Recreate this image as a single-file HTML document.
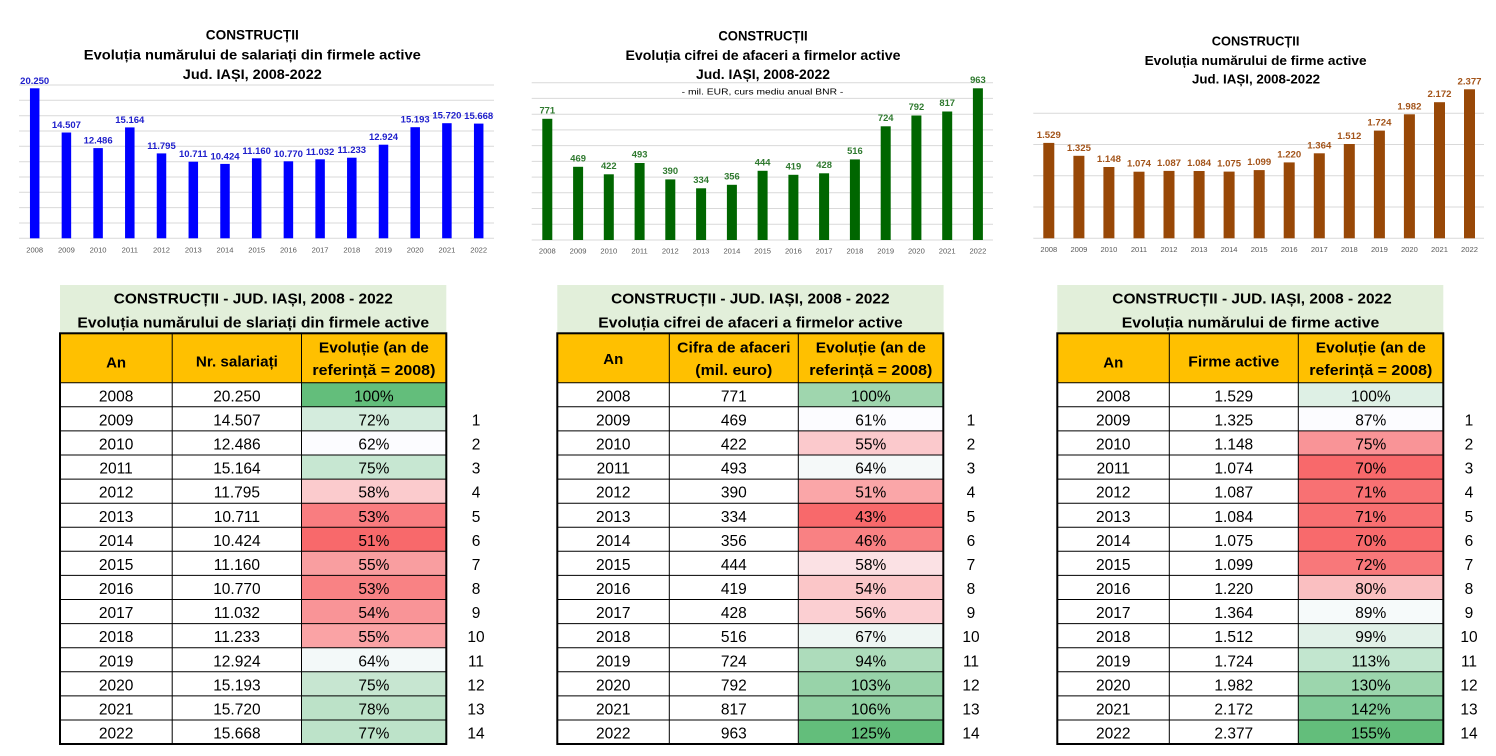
<!DOCTYPE html>
<html><head><meta charset="utf-8"><style>
html,body{margin:0;padding:0;background:#fff;}
svg{display:block;}
text{font-family:"Liberation Sans",sans-serif;}
.ct{font-weight:bold;font-size:13.5px;fill:#000;text-anchor:middle;}
.ct3{font-weight:bold;font-size:12.8px;fill:#000;text-anchor:middle;}
.yr{font-size:7.6px;fill:#595959;text-anchor:middle;}
.l1{font-weight:bold;font-size:9.5px;fill:#2020cc;text-anchor:middle;}
.l2{font-weight:bold;font-size:9.4px;fill:#2f7a2f;text-anchor:middle;}
.l3{font-weight:bold;font-size:9.6px;fill:#a3541a;text-anchor:middle;}
.tt{font-weight:bold;font-size:15px;fill:#000;text-anchor:middle;}
.h{font-weight:bold;font-size:15px;fill:#000;text-anchor:middle;}
.b{font-size:15.5px;fill:#000;text-anchor:middle;}
.g{stroke:#d9d9d9;stroke-width:1;fill:none;}
</style></head><body>
<svg width="1496" height="756" viewBox="0 0 1496 756" xmlns="http://www.w3.org/2000/svg">
<rect width="1496" height="756" fill="#fff"/>

<!-- ============ CHART 1 ============ -->
<path class="g" d="M19 85H494M19 100.3H494M19 115.7H494M19 131H494M19 146.3H494M19 161.7H494M19 177H494M19 192.3H494M19 207.6H494M19 223H494M19 238.3H494"/>
<text class="ct" x="252.3" y="39.7" textLength="93" lengthAdjust="spacingAndGlyphs">CONSTRUCȚII</text>
<text class="ct" x="252.3" y="59.6" textLength="337" lengthAdjust="spacingAndGlyphs">Evoluția numărului de salariați din firmele active</text>
<text class="ct" x="252.3" y="78.8" textLength="139" lengthAdjust="spacingAndGlyphs">Jud. IAȘI, 2008-2022</text>
<g fill="#0000ff">
<rect x="29.95" y="88.3" width="9.5" height="150"/>
<rect x="61.65" y="132.5" width="9.5" height="105.8"/>
<rect x="93.35" y="148.1" width="9.5" height="90.2"/>
<rect x="125.05" y="127.4" width="9.5" height="110.9"/>
<rect x="156.75" y="153.4" width="9.5" height="84.9"/>
<rect x="188.55" y="161.7" width="9.5" height="76.6"/>
<rect x="220.25" y="163.9" width="9.5" height="74.4"/>
<rect x="251.95" y="158.3" width="9.5" height="80"/>
<rect x="283.65" y="161.3" width="9.5" height="77"/>
<rect x="315.35" y="159.3" width="9.5" height="79"/>
<rect x="347.05" y="157.7" width="9.5" height="80.6"/>
<rect x="378.75" y="144.7" width="9.5" height="93.6"/>
<rect x="410.45" y="127.2" width="9.5" height="111.1"/>
<rect x="442.15" y="123.2" width="9.5" height="115.1"/>
<rect x="473.95" y="123.6" width="9.5" height="114.7"/>
</g>
<text class="l1" x="34.7" y="83.8">20.250</text>
<text class="l1" x="66.4" y="128">14.507</text>
<text class="l1" x="98.1" y="143.6">12.486</text>
<text class="l1" x="129.8" y="122.9">15.164</text>
<text class="l1" x="161.5" y="148.9">11.795</text>
<text class="l1" x="193.3" y="157.2">10.711</text>
<text class="l1" x="225" y="159.4">10.424</text>
<text class="l1" x="256.7" y="153.8">11.160</text>
<text class="l1" x="288.4" y="156.8">10.770</text>
<text class="l1" x="320.1" y="154.8">11.032</text>
<text class="l1" x="351.8" y="153.2">11.233</text>
<text class="l1" x="383.5" y="140.2">12.924</text>
<text class="l1" x="415.2" y="122.7">15.193</text>
<text class="l1" x="446.9" y="118.7">15.720</text>
<text class="l1" x="478.7" y="119.1">15.668</text>
<text class="yr" x="34.7" y="252.5">2008</text>
<text class="yr" x="66.4" y="252.5">2009</text>
<text class="yr" x="98.1" y="252.5">2010</text>
<text class="yr" x="129.8" y="252.5">2011</text>
<text class="yr" x="161.5" y="252.5">2012</text>
<text class="yr" x="193.3" y="252.5">2013</text>
<text class="yr" x="225" y="252.5">2014</text>
<text class="yr" x="256.7" y="252.5">2015</text>
<text class="yr" x="288.4" y="252.5">2016</text>
<text class="yr" x="320.1" y="252.5">2017</text>
<text class="yr" x="351.8" y="252.5">2018</text>
<text class="yr" x="383.5" y="252.5">2019</text>
<text class="yr" x="415.2" y="252.5">2020</text>
<text class="yr" x="446.9" y="252.5">2021</text>
<text class="yr" x="478.7" y="252.5">2022</text>

<!-- ============ CHART 2 ============ -->
<path class="g" d="M531.7 82.7H993M531.7 98.4H993M531.7 114.2H993M531.7 129.9H993M531.7 145.6H993M531.7 161.4H993M531.7 177.1H993M531.7 192.8H993M531.7 208.5H993M531.7 224.3H993M531.7 240H993"/>
<text class="ct" x="763" y="40.3" textLength="89.3" lengthAdjust="spacingAndGlyphs">CONSTRUCȚII</text>
<text class="ct" x="763" y="60" textLength="275" lengthAdjust="spacingAndGlyphs">Evoluția cifrei de afaceri a firmelor active</text>
<text class="ct" x="763" y="78.8" textLength="134" lengthAdjust="spacingAndGlyphs">Jud. IAȘI, 2008-2022</text>
<text x="762.5" y="94.5" font-size="8.5" fill="#000" text-anchor="middle" textLength="161.6" lengthAdjust="spacingAndGlyphs">- mil. EUR, curs mediu anual BNR -</text>
<g fill="#006600">
<rect x="542.3" y="118.8" width="10" height="121.2"/>
<rect x="573.1" y="166.8" width="10" height="73.2"/>
<rect x="603.8" y="174.3" width="10" height="65.7"/>
<rect x="634.6" y="163" width="10" height="77"/>
<rect x="665.3" y="179.4" width="10" height="60.6"/>
<rect x="696.1" y="188.3" width="10" height="51.7"/>
<rect x="726.9" y="184.8" width="10" height="55.2"/>
<rect x="757.6" y="170.8" width="10" height="69.2"/>
<rect x="788.4" y="174.8" width="10" height="65.2"/>
<rect x="819.1" y="173.3" width="10" height="66.7"/>
<rect x="849.9" y="159.4" width="10" height="80.6"/>
<rect x="880.7" y="126.3" width="10" height="113.7"/>
<rect x="911.4" y="115.5" width="10" height="124.5"/>
<rect x="942.2" y="111.5" width="10" height="128.5"/>
<rect x="972.9" y="88.3" width="10" height="151.7"/>
</g>
<text class="l2" x="547.3" y="113.3">771</text>
<text class="l2" x="578.1" y="161.3">469</text>
<text class="l2" x="608.8" y="168.8">422</text>
<text class="l2" x="639.6" y="157.5">493</text>
<text class="l2" x="670.3" y="173.9">390</text>
<text class="l2" x="701.1" y="182.8">334</text>
<text class="l2" x="731.9" y="179.3">356</text>
<text class="l2" x="762.6" y="165.3">444</text>
<text class="l2" x="793.4" y="169.3">419</text>
<text class="l2" x="824.1" y="167.8">428</text>
<text class="l2" x="854.9" y="153.9">516</text>
<text class="l2" x="885.7" y="120.8">724</text>
<text class="l2" x="916.4" y="110">792</text>
<text class="l2" x="947.2" y="106">817</text>
<text class="l2" x="977.9" y="82.8">963</text>
<text class="yr" x="547.3" y="253.5">2008</text>
<text class="yr" x="578.1" y="253.5">2009</text>
<text class="yr" x="608.8" y="253.5">2010</text>
<text class="yr" x="639.6" y="253.5">2011</text>
<text class="yr" x="670.3" y="253.5">2012</text>
<text class="yr" x="701.1" y="253.5">2013</text>
<text class="yr" x="731.9" y="253.5">2014</text>
<text class="yr" x="762.6" y="253.5">2015</text>
<text class="yr" x="793.4" y="253.5">2016</text>
<text class="yr" x="824.1" y="253.5">2017</text>
<text class="yr" x="854.9" y="253.5">2018</text>
<text class="yr" x="885.7" y="253.5">2019</text>
<text class="yr" x="916.4" y="253.5">2020</text>
<text class="yr" x="947.2" y="253.5">2021</text>
<text class="yr" x="977.9" y="253.5">2022</text>

<!-- ============ CHART 3 ============ -->
<path class="g" d="M1033.3 113.3H1484M1033.3 144.55H1484M1033.3 175.8H1484M1033.3 207.05H1484M1033.3 238.3H1484"/>
<text class="ct3" x="1255.6" y="45.3" textLength="87.6" lengthAdjust="spacingAndGlyphs">CONSTRUCȚII</text>
<text class="ct3" x="1255.6" y="64.9" textLength="222" lengthAdjust="spacingAndGlyphs">Evoluția numărului de firme active</text>
<text class="ct3" x="1256" y="83.3" textLength="128" lengthAdjust="spacingAndGlyphs">Jud. IAȘI, 2008-2022</text>
<g fill="#984807">
<rect x="1043.3" y="142.9" width="11" height="95.4"/>
<rect x="1073.4" y="155.8" width="11" height="82.5"/>
<rect x="1103.4" y="167" width="11" height="71.3"/>
<rect x="1133.5" y="171.7" width="11" height="66.6"/>
<rect x="1163.5" y="170.9" width="11" height="67.4"/>
<rect x="1193.6" y="171" width="11" height="67.3"/>
<rect x="1223.6" y="171.6" width="11" height="66.7"/>
<rect x="1253.7" y="170.1" width="11" height="68.2"/>
<rect x="1283.7" y="162.4" width="11" height="75.9"/>
<rect x="1313.8" y="153.3" width="11" height="85"/>
<rect x="1343.8" y="144" width="11" height="94.3"/>
<rect x="1373.9" y="130.6" width="11" height="107.7"/>
<rect x="1403.9" y="114.3" width="11" height="124"/>
<rect x="1434" y="102.2" width="11" height="136.1"/>
<rect x="1464" y="89.3" width="11" height="149"/>
</g>
<text class="l3" x="1048.8" y="137.9">1.529</text>
<text class="l3" x="1078.9" y="150.8">1.325</text>
<text class="l3" x="1108.9" y="162">1.148</text>
<text class="l3" x="1139" y="166.7">1.074</text>
<text class="l3" x="1169" y="165.9">1.087</text>
<text class="l3" x="1199.1" y="166">1.084</text>
<text class="l3" x="1229.1" y="166.6">1.075</text>
<text class="l3" x="1259.2" y="165.1">1.099</text>
<text class="l3" x="1289.2" y="157.4">1.220</text>
<text class="l3" x="1319.3" y="148.3">1.364</text>
<text class="l3" x="1349.3" y="139">1.512</text>
<text class="l3" x="1379.4" y="125.6">1.724</text>
<text class="l3" x="1409.4" y="109.3">1.982</text>
<text class="l3" x="1439.5" y="97.2">2.172</text>
<text class="l3" x="1469.5" y="84.3">2.377</text>
<text class="yr" x="1048.8" y="252">2008</text>
<text class="yr" x="1078.9" y="252">2009</text>
<text class="yr" x="1108.9" y="252">2010</text>
<text class="yr" x="1139" y="252">2011</text>
<text class="yr" x="1169" y="252">2012</text>
<text class="yr" x="1199.1" y="252">2013</text>
<text class="yr" x="1229.1" y="252">2014</text>
<text class="yr" x="1259.2" y="252">2015</text>
<text class="yr" x="1289.2" y="252">2016</text>
<text class="yr" x="1319.3" y="252">2017</text>
<text class="yr" x="1349.3" y="252">2018</text>
<text class="yr" x="1379.4" y="252">2019</text>
<text class="yr" x="1409.4" y="252">2020</text>
<text class="yr" x="1439.5" y="252">2021</text>
<text class="yr" x="1469.5" y="252">2022</text>

<!-- ============ TABLE 1 ============ -->
<g transform="translate(60,0)">
<rect x="0" y="285" width="386.3" height="48.3" fill="#E2EFDA"/>
<rect x="0" y="333.3" width="386.3" height="49.4" fill="#FFC000"/>
<rect x="241.5" y="382.7" width="144.8" height="24.09" fill="rgb(99,190,123)"/>
<rect x="241.5" y="406.8" width="144.8" height="24.09" fill="rgb(212,236,221)"/>
<rect x="241.5" y="430.9" width="144.8" height="24.09" fill="rgb(252,252,255)"/>
<rect x="241.5" y="455" width="144.8" height="24.09" fill="rgb(199,231,210)"/>
<rect x="241.5" y="479.1" width="144.8" height="24.09" fill="rgb(251,203,205)"/>
<rect x="241.5" y="503.2" width="144.8" height="24.09" fill="rgb(249,125,128)"/>
<rect x="241.5" y="527.2" width="144.8" height="24.09" fill="rgb(248,105,107)"/>
<rect x="241.5" y="551.3" width="144.8" height="24.09" fill="rgb(249,158,160)"/>
<rect x="241.5" y="575.4" width="144.8" height="24.09" fill="rgb(249,130,132)"/>
<rect x="241.5" y="599.5" width="144.8" height="24.09" fill="rgb(249,148,151)"/>
<rect x="241.5" y="623.6" width="144.8" height="24.09" fill="rgb(250,163,165)"/>
<rect x="241.5" y="647.7" width="144.8" height="24.09" fill="rgb(243,249,249)"/>
<rect x="241.5" y="671.8" width="144.8" height="24.09" fill="rgb(199,230,209)"/>
<rect x="241.5" y="695.9" width="144.8" height="24.09" fill="rgb(188,226,200)"/>
<rect x="241.5" y="720" width="144.8" height="24.05" fill="rgb(189,227,201)"/>
<path d="M0 382.7H386.3M0 406.8H386.3M0 430.9H386.3M0 455H386.3M0 479.1H386.3M0 503.2H386.3M0 527.2H386.3M0 551.3H386.3M0 575.4H386.3M0 599.5H386.3M0 623.6H386.3M0 647.7H386.3M0 671.8H386.3M0 695.9H386.3M0 720H386.3M112.2 333.3V744M241.5 333.3V744" stroke="#000" stroke-width="1" fill="none"/>
<rect x="0" y="333.3" width="386.3" height="410.7" fill="none" stroke="#000" stroke-width="2"/>
<text class="tt" x="193.3" y="303.3" textLength="279" lengthAdjust="spacingAndGlyphs">CONSTRUCȚII - JUD. IAȘI, 2008 - 2022</text>
<text class="tt" x="193.3" y="327.3" textLength="351.7" lengthAdjust="spacingAndGlyphs">Evoluția numărului de slariați din firmele active</text>
<text class="h" x="56.1" y="367.3">An</text>
<text class="h" x="176.9" y="366.7" textLength="82" lengthAdjust="spacingAndGlyphs">Nr. salariați</text>
<text class="h" x="313.9" y="352.7" textLength="110" lengthAdjust="spacingAndGlyphs">Evoluție (an de</text>
<text class="h" x="313.9" y="375" textLength="123" lengthAdjust="spacingAndGlyphs">referință = 2008)</text>
<g class="b">
<text x="56.1" y="401.3">2008</text><text x="176.9" y="401.3">20.250</text><text x="313.9" y="401.3">100%</text>
<text x="56.1" y="425.4">2009</text><text x="176.9" y="425.4">14.507</text><text x="313.9" y="425.4">72%</text><text x="416" y="425.4">1</text>
<text x="56.1" y="449.5">2010</text><text x="176.9" y="449.5">12.486</text><text x="313.9" y="449.5">62%</text><text x="416" y="449.5">2</text>
<text x="56.1" y="473.6">2011</text><text x="176.9" y="473.6">15.164</text><text x="313.9" y="473.6">75%</text><text x="416" y="473.6">3</text>
<text x="56.1" y="497.7">2012</text><text x="176.9" y="497.7">11.795</text><text x="313.9" y="497.7">58%</text><text x="416" y="497.7">4</text>
<text x="56.1" y="521.8">2013</text><text x="176.9" y="521.8">10.711</text><text x="313.9" y="521.8">53%</text><text x="416" y="521.8">5</text>
<text x="56.1" y="545.8">2014</text><text x="176.9" y="545.8">10.424</text><text x="313.9" y="545.8">51%</text><text x="416" y="545.8">6</text>
<text x="56.1" y="569.9">2015</text><text x="176.9" y="569.9">11.160</text><text x="313.9" y="569.9">55%</text><text x="416" y="569.9">7</text>
<text x="56.1" y="594">2016</text><text x="176.9" y="594">10.770</text><text x="313.9" y="594">53%</text><text x="416" y="594">8</text>
<text x="56.1" y="618.1">2017</text><text x="176.9" y="618.1">11.032</text><text x="313.9" y="618.1">54%</text><text x="416" y="618.1">9</text>
<text x="56.1" y="642.2">2018</text><text x="176.9" y="642.2">11.233</text><text x="313.9" y="642.2">55%</text><text x="416" y="642.2">10</text>
<text x="56.1" y="666.3">2019</text><text x="176.9" y="666.3">12.924</text><text x="313.9" y="666.3">64%</text><text x="416" y="666.3">11</text>
<text x="56.1" y="690.4">2020</text><text x="176.9" y="690.4">15.193</text><text x="313.9" y="690.4">75%</text><text x="416" y="690.4">12</text>
<text x="56.1" y="714.5">2021</text><text x="176.9" y="714.5">15.720</text><text x="313.9" y="714.5">78%</text><text x="416" y="714.5">13</text>
<text x="56.1" y="738.5">2022</text><text x="176.9" y="738.5">15.668</text><text x="313.9" y="738.5">77%</text><text x="416" y="738.5">14</text>
</g>
</g>

<!-- ============ TABLE 2 ============ -->
<g transform="translate(557.3,0)">
<rect x="0" y="285" width="386.3" height="48.3" fill="#E2EFDA"/>
<rect x="0" y="333.3" width="386.3" height="49.4" fill="#FFC000"/>
<rect x="241.5" y="382.7" width="144.8" height="24.09" fill="rgb(159,214,174)"/>
<rect x="241.5" y="406.8" width="144.8" height="24.09" fill="rgb(252,252,255)"/>
<rect x="241.5" y="430.9" width="144.8" height="24.09" fill="rgb(251,201,204)"/>
<rect x="241.5" y="455" width="144.8" height="24.09" fill="rgb(245,249,249)"/>
<rect x="241.5" y="479.1" width="144.8" height="24.09" fill="rgb(250,166,168)"/>
<rect x="241.5" y="503.2" width="144.8" height="24.09" fill="rgb(248,105,107)"/>
<rect x="241.5" y="527.2" width="144.8" height="24.09" fill="rgb(249,129,131)"/>
<rect x="241.5" y="551.3" width="144.8" height="24.09" fill="rgb(251,225,228)"/>
<rect x="241.5" y="575.4" width="144.8" height="24.09" fill="rgb(251,198,200)"/>
<rect x="241.5" y="599.5" width="144.8" height="24.09" fill="rgb(251,207,210)"/>
<rect x="241.5" y="623.6" width="144.8" height="24.09" fill="rgb(238,246,243)"/>
<rect x="241.5" y="647.7" width="144.8" height="24.09" fill="rgb(173,220,187)"/>
<rect x="241.5" y="671.8" width="144.8" height="24.09" fill="rgb(152,211,169)"/>
<rect x="241.5" y="695.9" width="144.8" height="24.09" fill="rgb(144,208,162)"/>
<rect x="241.5" y="720" width="144.8" height="24.05" fill="rgb(99,190,123)"/>
<path d="M0 382.7H386.3M0 406.8H386.3M0 430.9H386.3M0 455H386.3M0 479.1H386.3M0 503.2H386.3M0 527.2H386.3M0 551.3H386.3M0 575.4H386.3M0 599.5H386.3M0 623.6H386.3M0 647.7H386.3M0 671.8H386.3M0 695.9H386.3M0 720H386.3M112 333.3V744M241 333.3V744" stroke="#000" stroke-width="1" fill="none"/>
<rect x="0" y="333.3" width="386" height="410.7" fill="none" stroke="#000" stroke-width="2"/>
<text class="tt" x="193" y="303.3" textLength="278.4" lengthAdjust="spacingAndGlyphs">CONSTRUCȚII - JUD. IAȘI, 2008 - 2022</text>
<text class="tt" x="193.2" y="327.3" textLength="304.4" lengthAdjust="spacingAndGlyphs">Evoluția cifrei de afaceri a firmelor active</text>
<text class="h" x="56" y="364">An</text>
<text class="h" x="176.5" y="352.7" textLength="113.3" lengthAdjust="spacingAndGlyphs">Cifra de afaceri</text>
<text class="h" x="176.5" y="375" textLength="77" lengthAdjust="spacingAndGlyphs">(mil. euro)</text>
<text class="h" x="313.5" y="352.7" textLength="110" lengthAdjust="spacingAndGlyphs">Evoluție (an de</text>
<text class="h" x="313.5" y="375" textLength="123" lengthAdjust="spacingAndGlyphs">referință = 2008)</text>
<g class="b">
<text x="56" y="401.3">2008</text><text x="176.5" y="401.3">771</text><text x="313.5" y="401.3">100%</text>
<text x="56" y="425.4">2009</text><text x="176.5" y="425.4">469</text><text x="313.5" y="425.4">61%</text><text x="413.7" y="425.4">1</text>
<text x="56" y="449.5">2010</text><text x="176.5" y="449.5">422</text><text x="313.5" y="449.5">55%</text><text x="413.7" y="449.5">2</text>
<text x="56" y="473.6">2011</text><text x="176.5" y="473.6">493</text><text x="313.5" y="473.6">64%</text><text x="413.7" y="473.6">3</text>
<text x="56" y="497.7">2012</text><text x="176.5" y="497.7">390</text><text x="313.5" y="497.7">51%</text><text x="413.7" y="497.7">4</text>
<text x="56" y="521.8">2013</text><text x="176.5" y="521.8">334</text><text x="313.5" y="521.8">43%</text><text x="413.7" y="521.8">5</text>
<text x="56" y="545.8">2014</text><text x="176.5" y="545.8">356</text><text x="313.5" y="545.8">46%</text><text x="413.7" y="545.8">6</text>
<text x="56" y="569.9">2015</text><text x="176.5" y="569.9">444</text><text x="313.5" y="569.9">58%</text><text x="413.7" y="569.9">7</text>
<text x="56" y="594">2016</text><text x="176.5" y="594">419</text><text x="313.5" y="594">54%</text><text x="413.7" y="594">8</text>
<text x="56" y="618.1">2017</text><text x="176.5" y="618.1">428</text><text x="313.5" y="618.1">56%</text><text x="413.7" y="618.1">9</text>
<text x="56" y="642.2">2018</text><text x="176.5" y="642.2">516</text><text x="313.5" y="642.2">67%</text><text x="413.7" y="642.2">10</text>
<text x="56" y="666.3">2019</text><text x="176.5" y="666.3">724</text><text x="313.5" y="666.3">94%</text><text x="413.7" y="666.3">11</text>
<text x="56" y="690.4">2020</text><text x="176.5" y="690.4">792</text><text x="313.5" y="690.4">103%</text><text x="413.7" y="690.4">12</text>
<text x="56" y="714.5">2021</text><text x="176.5" y="714.5">817</text><text x="313.5" y="714.5">106%</text><text x="413.7" y="714.5">13</text>
<text x="56" y="738.5">2022</text><text x="176.5" y="738.5">963</text><text x="313.5" y="738.5">125%</text><text x="413.7" y="738.5">14</text>
</g>
</g>

<!-- ============ TABLE 3 ============ -->
<g transform="translate(1057.3,0)">
<rect x="0" y="285" width="386" height="48.3" fill="#E2EFDA"/>
<rect x="0" y="333.3" width="386" height="49.4" fill="#FFC000"/>
<rect x="241" y="382.7" width="145" height="24.09" fill="rgb(222,240,229)"/>
<rect x="241" y="406.8" width="145" height="24.09" fill="rgb(252,252,255)"/>
<rect x="241" y="430.9" width="145" height="24.09" fill="rgb(249,148,151)"/>
<rect x="241" y="455" width="145" height="24.09" fill="rgb(248,105,107)"/>
<rect x="241" y="479.1" width="145" height="24.09" fill="rgb(248,113,115)"/>
<rect x="241" y="503.2" width="145" height="24.09" fill="rgb(248,111,113)"/>
<rect x="241" y="527.2" width="145" height="24.09" fill="rgb(248,106,108)"/>
<rect x="241" y="551.3" width="145" height="24.09" fill="rgb(248,120,122)"/>
<rect x="241" y="575.4" width="145" height="24.09" fill="rgb(250,191,193)"/>
<rect x="241" y="599.5" width="145" height="24.09" fill="rgb(246,250,250)"/>
<rect x="241" y="623.6" width="145" height="24.09" fill="rgb(225,241,232)"/>
<rect x="241" y="647.7" width="145" height="24.09" fill="rgb(194,230,207)"/>
<rect x="241" y="671.8" width="145" height="24.09" fill="rgb(156,214,173)"/>
<rect x="241" y="695.9" width="145" height="24.09" fill="rgb(129,203,152)"/>
<rect x="241" y="720" width="145" height="24.05" fill="rgb(99,190,123)"/>
<path d="M0 382.7H386M0 406.8H386M0 430.9H386M0 455H386M0 479.1H386M0 503.2H386M0 527.2H386M0 551.3H386M0 575.4H386M0 599.5H386M0 623.6H386M0 647.7H386M0 671.8H386M0 695.9H386M0 720H386M112 333.3V744M241 333.3V744" stroke="#000" stroke-width="1" fill="none"/>
<rect x="0" y="333.3" width="386" height="410.7" fill="none" stroke="#000" stroke-width="2"/>
<text class="tt" x="194.7" y="303.3" textLength="279.4" lengthAdjust="spacingAndGlyphs">CONSTRUCȚII - JUD. IAȘI, 2008 - 2022</text>
<text class="tt" x="193.2" y="327.3" textLength="257.6" lengthAdjust="spacingAndGlyphs">Evoluția numărului de firme active</text>
<text class="h" x="56" y="367.3">An</text>
<text class="h" x="176.5" y="366.7" textLength="91" lengthAdjust="spacingAndGlyphs">Firme active</text>
<text class="h" x="313.5" y="352.7" textLength="110" lengthAdjust="spacingAndGlyphs">Evoluție (an de</text>
<text class="h" x="313.5" y="375" textLength="123" lengthAdjust="spacingAndGlyphs">referință = 2008)</text>
<g class="b">
<text x="56" y="401.3">2008</text><text x="176.5" y="401.3">1.529</text><text x="313.5" y="401.3">100%</text>
<text x="56" y="425.4">2009</text><text x="176.5" y="425.4">1.325</text><text x="313.5" y="425.4">87%</text><text x="411.7" y="425.4">1</text>
<text x="56" y="449.5">2010</text><text x="176.5" y="449.5">1.148</text><text x="313.5" y="449.5">75%</text><text x="411.7" y="449.5">2</text>
<text x="56" y="473.6">2011</text><text x="176.5" y="473.6">1.074</text><text x="313.5" y="473.6">70%</text><text x="411.7" y="473.6">3</text>
<text x="56" y="497.7">2012</text><text x="176.5" y="497.7">1.087</text><text x="313.5" y="497.7">71%</text><text x="411.7" y="497.7">4</text>
<text x="56" y="521.8">2013</text><text x="176.5" y="521.8">1.084</text><text x="313.5" y="521.8">71%</text><text x="411.7" y="521.8">5</text>
<text x="56" y="545.8">2014</text><text x="176.5" y="545.8">1.075</text><text x="313.5" y="545.8">70%</text><text x="411.7" y="545.8">6</text>
<text x="56" y="569.9">2015</text><text x="176.5" y="569.9">1.099</text><text x="313.5" y="569.9">72%</text><text x="411.7" y="569.9">7</text>
<text x="56" y="594">2016</text><text x="176.5" y="594">1.220</text><text x="313.5" y="594">80%</text><text x="411.7" y="594">8</text>
<text x="56" y="618.1">2017</text><text x="176.5" y="618.1">1.364</text><text x="313.5" y="618.1">89%</text><text x="411.7" y="618.1">9</text>
<text x="56" y="642.2">2018</text><text x="176.5" y="642.2">1.512</text><text x="313.5" y="642.2">99%</text><text x="411.7" y="642.2">10</text>
<text x="56" y="666.3">2019</text><text x="176.5" y="666.3">1.724</text><text x="313.5" y="666.3">113%</text><text x="411.7" y="666.3">11</text>
<text x="56" y="690.4">2020</text><text x="176.5" y="690.4">1.982</text><text x="313.5" y="690.4">130%</text><text x="411.7" y="690.4">12</text>
<text x="56" y="714.5">2021</text><text x="176.5" y="714.5">2.172</text><text x="313.5" y="714.5">142%</text><text x="411.7" y="714.5">13</text>
<text x="56" y="738.5">2022</text><text x="176.5" y="738.5">2.377</text><text x="313.5" y="738.5">155%</text><text x="411.7" y="738.5">14</text>
</g>
</g>
</svg>
</body></html>
